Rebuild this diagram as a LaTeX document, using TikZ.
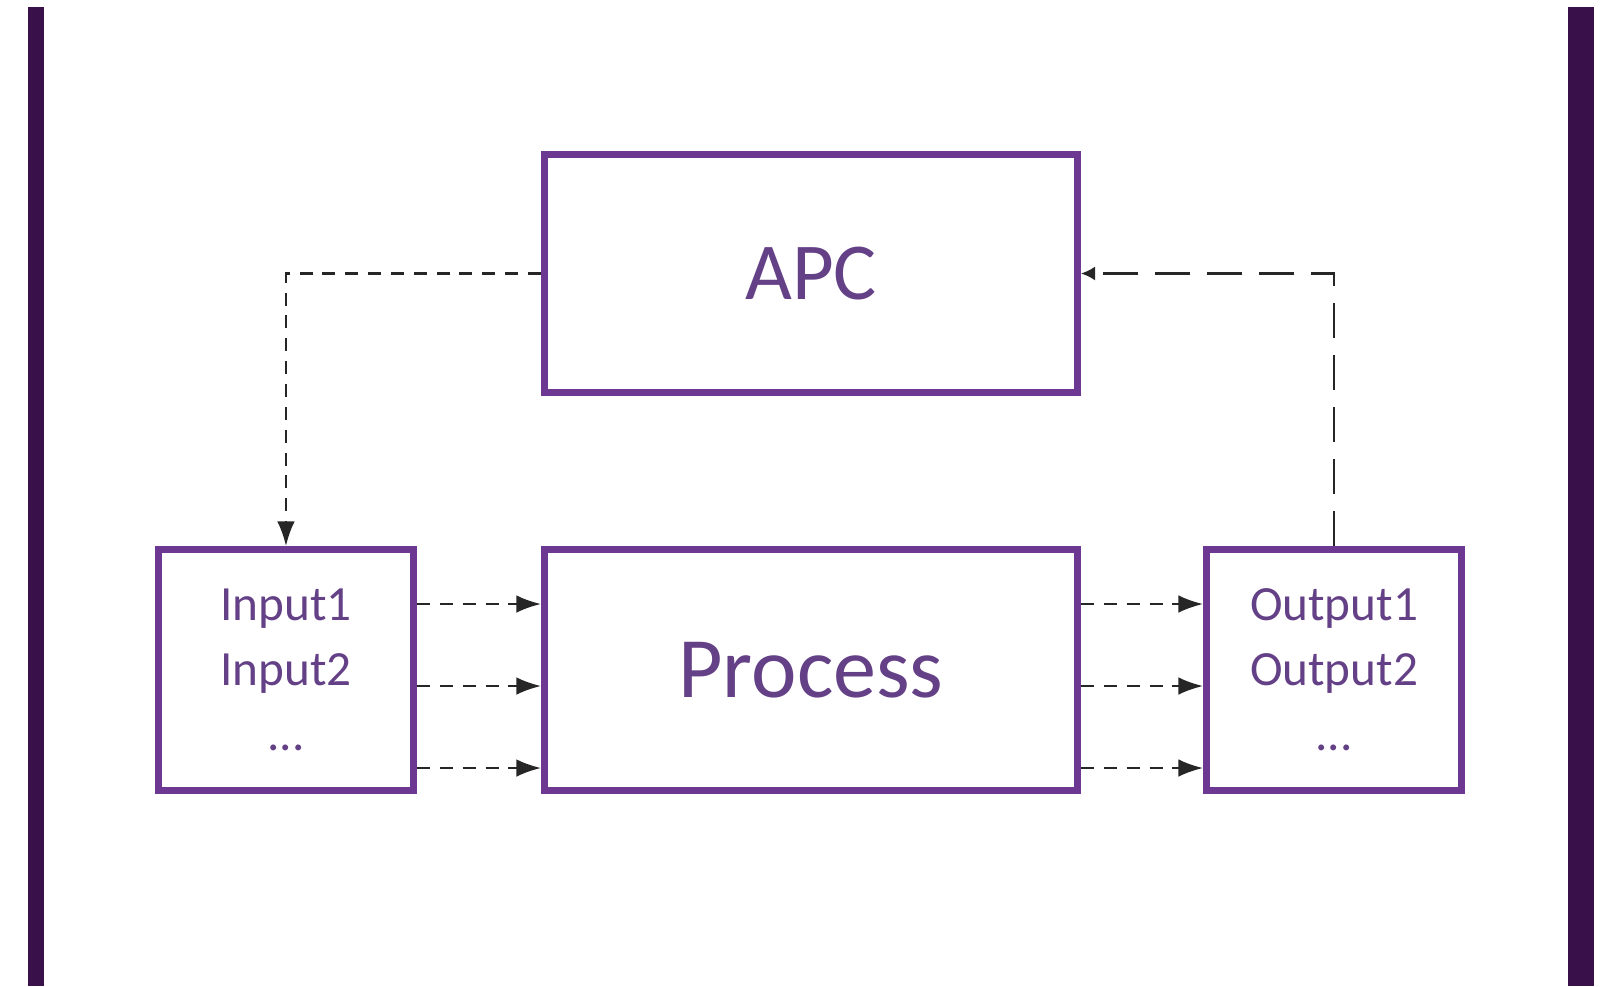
\documentclass[tikz,border=0pt]{standalone}
\usepackage{fontspec}
\setmainfont{Carlito}
\usepackage{tikz}
\usetikzlibrary{positioning,arrows.meta}
\definecolor{apcline}{RGB}{108,56,146}
\definecolor{apctext}{RGB}{100,64,134}
\definecolor{apcbar}{RGB}{58,16,74}
\tikzset{blk/.style={draw=apcline,line width=2pt,rectangle,minimum
width=5.33cm,minimum height=2.41cm,inner sep=0pt,text=apctext},sblk/.style={blk,minimum
width=2.55cm,align=center,font=\fontsize{14}{18.5}\selectfont}}
\tikzstyle{sig}  = [black!85,line width=0.6pt,dash pattern=on 3.7pt off 2.8pt,-{Latex[length=7pt,width=5pt]}]
\tikzstyle{fb}   = [black!85,line width=0.6pt,dash pattern=on 10pt off 4.8pt,-{Latex[length=4pt,width=4pt]}]

\begin{document}
\begin{tikzpicture}
		\useasboundingbox (0,0) rectangle (16.06,-9.86);
		\fill[apcbar] (0.28,-0.07) rectangle (0.44,-9.86);
		\fill[apcbar] (15.68,-0.07) rectangle (15.94,-9.86);
		\node[blk,font=\fontsize{24.5}{30}\selectfont] (proc) at (8.11,-6.70) {Process};
		\node[blk,minimum height=2.38cm,font=\fontsize{23}{28}\selectfont,above=1.5cm of proc] (apc) {APC};
		\node[sblk,left=1.24cm of proc] (in) {Input1\\Input2\\...};
		\node[sblk,right=1.22cm of proc] (out) {Output1\\Output2\\...};
		\foreach \y in {-6.04,-6.86,-7.68} {
				\draw[sig] (in.east |- 0,\y) -- (proc.west |- 0,\y);
				\draw[sig] (proc.east |- 0,\y) -- (out.west |- 0,\y);
			}
		\draw[sig] (apc.west) -| (in.north);
		\draw[fb] (out.north) |- (apc.east);
	\end{tikzpicture}
\end{document}
